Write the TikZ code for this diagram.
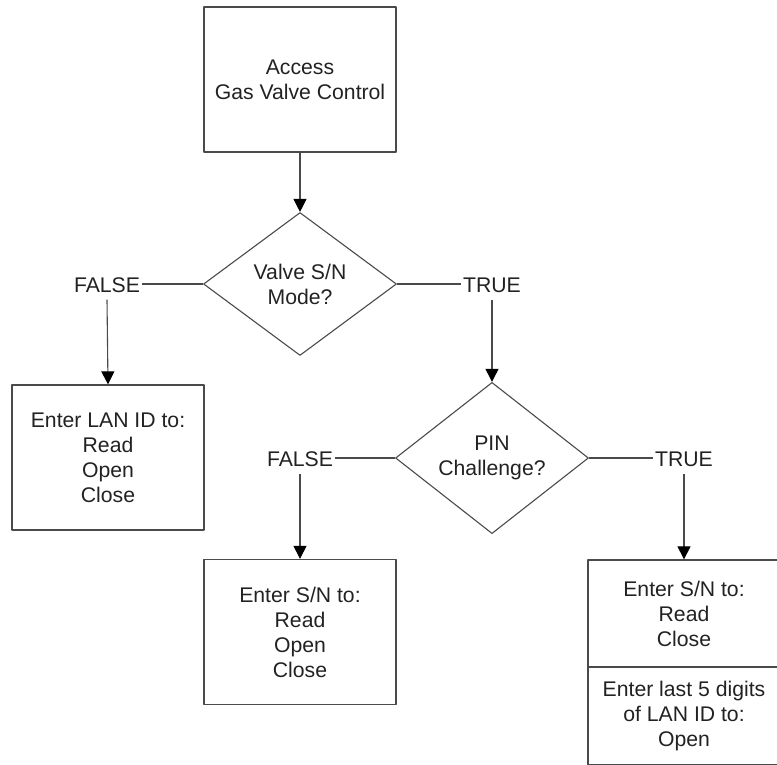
\documentclass[tikz,border=0pt]{standalone}
\usepackage{fontspec}
\setmainfont{Liberation Sans}
\usetikzlibrary{shapes.geometric,arrows.meta}
\definecolor{linegray}{HTML}{4A4A4A}
\definecolor{textgray}{HTML}{222222}
\tikzset{
  stepbox/.style={draw=linegray, line width=1.3pt, rectangle, minimum width=192pt, minimum height=145pt, align=center, text=textgray, inner sep=0pt},
  test/.style={draw=linegray, line width=1.1pt, diamond, minimum width=193pt, minimum height=143pt, align=center, text=textgray, inner sep=0pt},
  answer/.style={text=textgray, inner xsep=1.5pt, inner ysep=7pt},
  flow/.style={draw=linegray, line width=1.1pt},
  go/.style={flow, -{Triangle[width=13pt,length=13pt,color=black]}}
}
\begin{document}
\begin{tikzpicture}[x=1pt, y=-1pt, font=\fontsize{21.2}{25}\selectfont, line join=round]
				\useasboundingbox (0,0) rectangle (777,765);
				% start and first test
				\node[stepbox] (access) at (300,79.5) {Access\\Gas Valve Control};
				\node[test] (mode) at (300,284) {Valve S/N\\Mode?};
				\node[answer] (mfalse) at (107,285) {FALSE};
				\node[answer] (mtrue) at (492,285) {TRUE};
				\node[stepbox] (lan) at (108,457.5) {Enter LAN ID to:\\Read\\Open\\Close};
				% second test
				\node[test] (pin) at (492,458) {PIN\\Challenge?};
				\node[answer] (pfalse) at (300,459) {FALSE};
				\node[answer] (ptrue) at (684,459) {TRUE};
				\node[stepbox] (sn) at (300,632) {Enter S/N to:\\Read\\Open\\Close};
				\node[stepbox, minimum height=107pt] (snpin) at (684,613.5) {Enter S/N to:\\Read\\Close};
				\node[stepbox, minimum height=98pt] (last) at (684,716) {Enter last 5 digits\\of LAN ID to:\\Open};
				% connectors
				\draw[go] (access) -- (mode);
				\draw[flow] (mode.west) -- (mode.west -| mfalse.east);
				\draw[flow] (mode.east) -- (mode.east -| mtrue.west);
				\draw[go] (mfalse.south) -- (lan.north);
				\draw[go] (mtrue.south) -- (pin.north);
				\draw[flow] (pin.west) -- (pin.west -| pfalse.east);
				\draw[flow] (pin.east) -- (pin.east -| ptrue.west);
				\draw[go] (pfalse.south) -- (sn.north);
				\draw[go] (ptrue.south) -- (snpin.north);
			\end{tikzpicture}
\end{document}
